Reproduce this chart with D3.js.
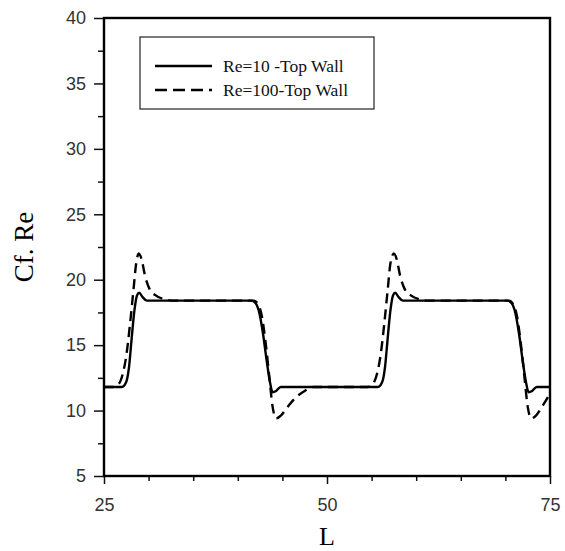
<!DOCTYPE html>
<html lang="en">
<head>
    <meta charset="UTF-8">
    <title>Cf.Re along L</title>
    <script src="https://d3js.org/d3.v7.min.js"></script>
    <style>
        body { margin: 0; background: #fff; }
        svg { display: block; }
    </style>
</head>
<body>
    <svg width="565" height="551"></svg>
    <script>
        // tick values
        const xMajor = [25, 50, 75];
        const xMinor = [30, 35, 40, 45, 55, 60, 65, 70];
        const yMajor = [5, 10, 15, 20, 25, 30, 35, 40];
        const yMinor = [7.5, 12.5, 17.5, 22.5, 27.5, 32.5, 37.5];

        // Re=10 top wall  [L, Cf.Re]
        const re10 = [
            [25, 11.8], [26.5, 11.8], [27.0, 11.8], [27.5, 12.2], [27.8, 13.3],
            [28.1, 15.5], [28.4, 17.6], [28.7, 18.8], [28.95, 19.0], [29.3, 18.7],
            [29.8, 18.4], [33, 18.4], [38, 18.4], [41.5, 18.4], [42.0, 18.2],
            [42.4, 17.5], [42.8, 16.0], [43.2, 14.0], [43.6, 12.2], [43.9, 11.4],
            [44.3, 11.5], [44.8, 11.8], [48, 11.8], [52, 11.8], [55.7, 11.8],
            [56.2, 12.2], [56.5, 13.3], [56.8, 15.5], [57.1, 17.6], [57.4, 18.8],
            [57.65, 19.0], [58.0, 18.7], [58.5, 18.4], [62, 18.4], [66, 18.4],
            [70.2, 18.4], [70.7, 18.2], [71.1, 17.5], [71.5, 16.0], [71.9, 14.0],
            [72.3, 12.2], [72.6, 11.4], [73.0, 11.5], [73.5, 11.8], [75, 11.8]
        ];

        // Re=100 top wall
        const re100 = [
            [25, 11.8], [26.0, 11.8], [26.6, 12.0], [27.1, 12.8], [27.5, 14.2],
            [27.9, 16.5], [28.3, 19.2], [28.6, 21.2], [28.9, 22.0], [29.2, 21.6],
            [29.6, 20.3], [30.1, 19.3], [30.8, 18.8], [31.8, 18.5], [33, 18.4],
            [40, 18.4], [41.8, 18.4], [42.3, 18.1], [42.7, 17.2], [43.1, 15.3],
            [43.5, 12.8], [43.9, 10.3], [44.3, 9.4], [44.8, 9.6], [45.6, 10.3],
            [46.5, 11.0], [47.5, 11.5], [48.5, 11.8], [54.5, 11.8], [55.1, 12.0],
            [55.6, 12.8], [56.0, 14.2], [56.4, 16.5], [56.8, 19.2], [57.1, 21.2],
            [57.5, 22.0], [57.8, 21.6], [58.2, 20.3], [58.7, 19.3], [59.4, 18.8],
            [60.4, 18.5], [61.5, 18.4], [70.4, 18.4], [70.9, 18.1], [71.3, 17.2],
            [71.7, 15.3], [72.1, 12.8], [72.5, 10.3], [72.9, 9.4], [73.4, 9.6],
            [74.2, 10.4], [75, 11.3]
        ];

        const legendLabels = ["Re=10 -Top Wall", "Re=100-Top Wall"];

        const svg = d3.select("svg");
        const pL = 104, pR = 550, pT = 18, pB = 476;

        const x = d3.scaleLinear().domain([25, 75]).range([pL, pR]);
        const y = d3.scaleLinear().domain([5, 40]).range([pB, pT]);

        const tickFont = "'Liberation Sans', Arial, sans-serif";
        const serif = "'Liberation Serif', 'Times New Roman', serif";

        // x axis: major ticks with labels, minor without
        svg.append("g")
            .attr("transform", `translate(0,${pB})`)
            .call(d3.axisBottom(x).tickValues(xMinor).tickSize(5).tickFormat(""))
            .call(g => g.select(".domain").remove());
        svg.append("g")
            .attr("transform", `translate(0,${pB})`)
            .call(d3.axisBottom(x).tickValues(xMajor).tickSize(8).tickPadding(14))
            .call(g => g.select(".domain").remove())
            .selectAll("text")
            .attr("font-family", tickFont)
            .attr("font-size", 18)
            .attr("fill", "#333");

        // y axis
        svg.append("g")
            .attr("transform", `translate(${pL},0)`)
            .call(d3.axisLeft(y).tickValues(yMinor).tickSize(6).tickFormat(""))
            .call(g => g.select(".domain").remove());
        svg.append("g")
            .attr("transform", `translate(${pL},0)`)
            .call(d3.axisLeft(y).tickValues(yMajor).tickSize(10).tickPadding(8))
            .call(g => g.select(".domain").remove())
            .selectAll("text")
            .attr("font-family", tickFont)
            .attr("font-size", 18)
            .attr("fill", "#333");

        svg.selectAll(".tick line").attr("stroke", "#111").attr("stroke-width", 1.5);

        // frame
        svg.append("rect")
            .attr("x", pL).attr("y", pT)
            .attr("width", pR - pL).attr("height", pB - pT)
            .attr("fill", "none")
            .attr("stroke", "#000")
            .attr("stroke-width", 2.4);

        // curves
        const line = d3.line()
            .x(d => x(d[0]))
            .y(d => y(d[1]))
            .curve(d3.curveMonotoneX);

        svg.append("path")
            .datum(re10)
            .attr("d", line)
            .attr("fill", "none")
            .attr("stroke", "#000")
            .attr("stroke-width", 2.4);

        svg.append("path")
            .datum(re100)
            .attr("d", line)
            .attr("fill", "none")
            .attr("stroke", "#000")
            .attr("stroke-width", 2.4)
            .attr("stroke-dasharray", "10,6");

        // legend
        const lg = svg.append("g");
        lg.append("rect")
            .attr("x", 140).attr("y", 37)
            .attr("width", 234).attr("height", 72)
            .attr("fill", "#fff")
            .attr("stroke", "#222")
            .attr("stroke-width", 1.2);

        legendLabels.forEach((lab, i) => {
            const ly = 66 + i * 24;
            lg.append("line")
                .attr("x1", 155).attr("x2", 212)
                .attr("y1", ly).attr("y2", ly)
                .attr("stroke", "#000")
                .attr("stroke-width", 2.4)
                .attr("stroke-dasharray", i === 0 ? null : "12,6");
            lg.append("text")
                .attr("x", 223).attr("y", ly + 6)
                .attr("font-family", serif)
                .attr("font-size", 17.5)
                .attr("fill", "#111")
                .text(lab);
        });

        // axis titles
        svg.append("text")
            .attr("x", x(50)).attr("y", 545)
            .attr("text-anchor", "middle")
            .attr("font-family", serif)
            .attr("font-size", 26)
            .text("L");

        svg.append("text")
            .attr("transform", `translate(33,${(pT + pB) / 2}) rotate(-90)`)
            .attr("text-anchor", "middle")
            .attr("font-family", serif)
            .attr("font-size", 27)
            .text("Cf. Re");
    </script>
</body>
</html>
